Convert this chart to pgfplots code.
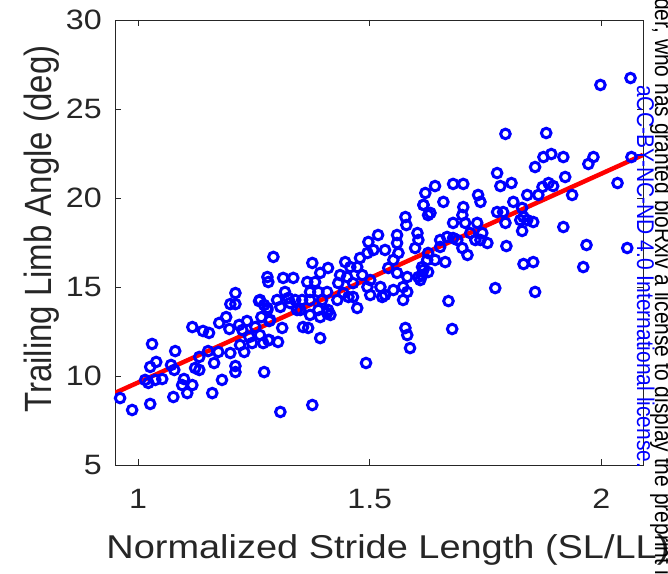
\documentclass[border=0pt]{standalone}
\usepackage{fontspec}
\setmainfont{Liberation Sans}[FakeStretch=1.15]
\newfontfamily\plainsans{Liberation Sans}
\usepackage{graphicx}
\usepackage{pgfplots}
\usepackage{pgfplotstable}
\pgfplotsset{compat=1.18}
\definecolor{axgray}{rgb}{0.15,0.15,0.15}
\definecolor{mblue}{rgb}{0,0,1}
\definecolor{mred}{rgb}{1,0,0}
\pgfplotstableread{
x y
0.961 8.76
0.987 8.09
1.026 8.43
1.030 11.80
1.039 10.79
1.026 10.51
1.015 9.78
1.022 9.61
1.052 9.83
1.037 9.78
1.076 8.82
1.080 11.40
1.071 10.62
1.078 10.34
1.099 9.83
1.106 9.04
1.117 9.49
1.095 9.49
1.117 12.75
1.140 12.53
1.153 12.42
1.132 11.07
1.132 10.34
1.123 10.45
1.151 11.40
1.164 10.73
1.160 9.04
1.181 9.78
1.173 11.35
1.175 12.98
1.190 13.31
1.197 12.64
1.199 11.29
1.210 10.56
1.210 10.22
1.199 14.04
1.210 14.04
1.210 14.66
1.218 12.87
1.235 13.09
1.225 12.58
1.229 11.35
1.220 11.74
1.246 11.85
1.240 12.19
1.261 14.21
1.272 13.99
1.279 13.82
1.266 13.31
1.253 12.75
1.263 12.30
1.283 12.02
1.272 10.22
1.283 13.09
1.292 16.69
1.279 15.56
1.281 15.28
1.313 15.51
1.335 15.51
1.263 14.27
1.279 13.71
1.300 14.27
1.317 14.72
1.324 14.38
1.339 14.27
1.307 13.88
1.285 13.15
1.311 12.70
1.302 11.91
1.281 12.02
1.270 11.85
1.356 12.75
1.367 12.70
1.393 12.13
1.376 16.35
1.365 15.28
1.382 15.28
1.410 16.07
1.393 15.79
1.408 14.72
1.389 14.72
1.371 14.72
1.371 14.27
1.354 14.27
1.350 13.71
1.389 13.71
1.410 13.71
1.415 13.43
1.393 13.31
1.371 13.43
1.436 15.67
1.432 15.22
1.447 16.40
1.458 16.12
1.451 15.56
1.464 15.22
1.443 14.66
1.454 14.44
1.430 14.27
1.473 13.82
1.464 14.44
1.473 16.12
1.479 16.63
1.495 16.91
1.497 17.53
1.518 17.92
1.508 17.08
1.533 17.08
1.484 15.67
1.501 15.39
1.495 15.00
1.501 14.55
1.523 15.00
1.540 16.07
1.551 16.52
1.562 16.91
1.559 17.47
1.559 17.92
1.577 18.93
1.579 18.48
1.603 18.03
1.605 17.64
1.598 17.19
1.616 19.61
1.626 19.04
1.559 15.79
1.581 15.56
1.605 15.56
1.616 15.96
1.624 16.52
1.572 15.00
1.551 14.83
1.572 14.27
1.533 14.55
1.527 14.44
1.581 14.72
1.609 15.39
1.577 12.70
1.581 12.30
1.587 11.57
1.492 10.73
1.397 14.27
1.408 13.54
1.343 13.71
1.328 14.10
1.307 7.98
1.376 8.37
1.678 12.64
2.063 26.74
1.998 26.35
1.793 23.60
1.881 23.65
1.875 22.30
1.892 22.47
1.918 22.30
1.857 21.74
1.972 21.91
1.983 22.30
2.065 22.30
1.922 21.18
2.035 20.84
1.886 20.84
1.896 20.67
1.873 20.62
1.864 20.17
1.937 20.17
1.840 20.17
1.775 21.40
1.782 20.67
1.806 20.84
1.810 19.78
1.775 19.21
1.788 19.21
1.793 18.60
1.829 19.44
1.832 18.93
1.825 18.76
1.840 18.76
1.853 18.65
1.829 18.15
1.918 18.37
1.795 17.30
1.968 17.36
2.056 17.19
1.961 16.12
1.853 16.40
1.832 16.29
1.771 14.94
1.857 14.72
1.670 14.21
1.734 20.17
1.739 19.78
1.702 20.79
1.680 20.79
1.641 20.67
1.620 20.28
1.616 19.61
1.631 19.16
1.659 19.78
1.702 19.49
1.700 19.04
1.680 18.60
1.706 18.60
1.732 18.60
1.754 17.47
1.743 18.03
1.728 17.64
1.711 16.80
1.700 17.19
1.689 17.64
1.667 17.81
1.652 17.64
1.663 16.40
1.641 16.52
1.626 16.91
1.613 16.12
1.626 15.84
1.613 15.67
1.652 17.25
1.680 17.75
1.717 18.03
1.739 17.64
}\scatterdata
\begin{document}
\begin{tikzpicture}
\useasboundingbox (0,0) rectangle (668pt,573pt);
\begin{axis}[
  at={(115pt,108pt)}, anchor=south west,
  scale only axis, width=528pt, height=445pt,
  xmin=0.95, xmax=2.09, ymin=5, ymax=30,
  xtick={1,1.5,2}, ytick={5,10,15,20,25,30},
  tick align=inside, major tick length=6pt,
  axis line style={axgray, line width=0.6pt},
  every tick/.style={axgray, line width=0.6pt},
  /pgf/number format/assume math mode=true,
  ticklabel style={font=\fontsize{28}{30}\selectfont, text=axgray, inner sep=0pt},
  xticklabel style={anchor=north},
  yticklabel style={anchor=east},
  xticklabel shift=24pt,
  yticklabel shift=13pt,
  xlabel={Normalized Stride Length (SL/LL)},
  ylabel={\scalebox{1}[1.15]{\plainsans Trailing Limb Angle (deg)}},
  xlabel style={at={(axis description cs:0.517,-0.209)}, anchor=base, font=\fontsize{33}{35}\selectfont, text=axgray, inner sep=0pt},
  ylabel style={at={(axis description cs:-0.1195,0.53)}, anchor=base, font=\fontsize{33}{35}\selectfont, text=axgray, inner sep=0pt},
]
\addplot[only marks, mark=o, mark size=4.8pt, mblue, mark options={solid, draw=mblue, line width=3pt}] table[x=x, y=y] {\scatterdata};
\addplot[mred, line width=4.5pt] coordinates {(0.95,9.05) (2.09,22.42)};
\end{axis}
\node[rotate=-90, anchor=base west, inner sep=0pt, font=\plainsans\fontsize{21}{21}\selectfont, text=black] at (655pt,575pt) {\scalebox{1}[1.15]{der, who has granted bioRxiv a license to display the preprint in perpetuity.}};
\node[rotate=-90, anchor=base west, inner sep=0pt, font=\plainsans\fontsize{21}{21}\selectfont, text=mblue] at (637pt,488pt) {\scalebox{1}[1.15]{aCC-BY-NC-ND 4.0 International license.}};
\end{tikzpicture}
\end{document}
